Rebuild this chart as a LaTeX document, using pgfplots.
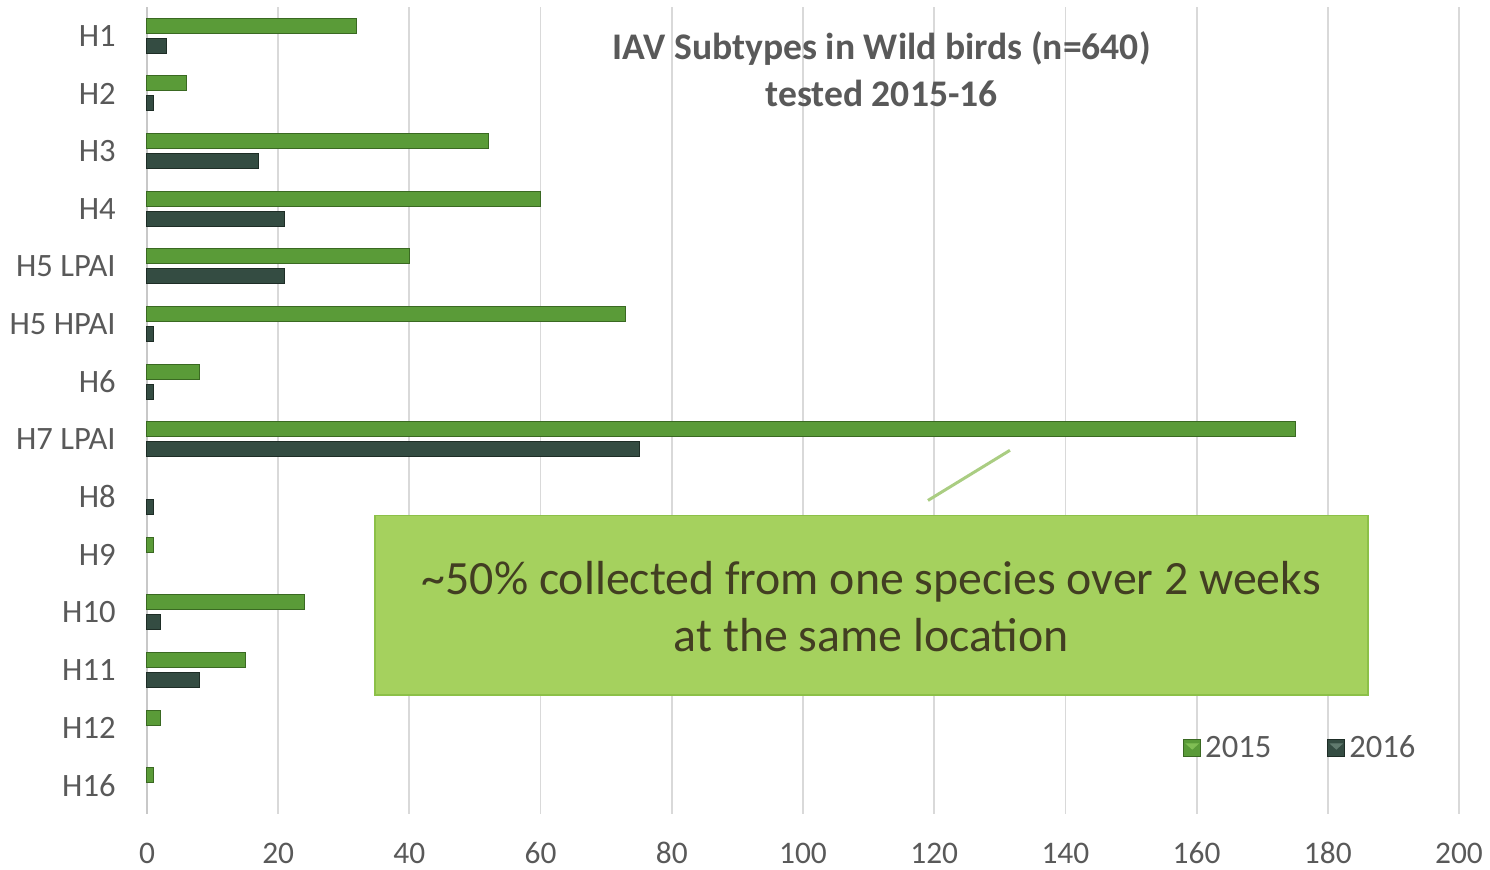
\documentclass[border=0pt]{standalone}
\usepackage{pgfplots}
\pgfplotsset{compat=1.18}
\usepackage{fontspec}
\setmainfont{Carlito}
\definecolor{tickc}{RGB}{89,89,89}
\definecolor{gridc}{RGB}{217,217,217}
\definecolor{axc}{RGB}{200,200,200}
\definecolor{gfill}{RGB}{90,155,56}
\definecolor{glite}{RGB}{128,190,84}
\definecolor{gdraw}{RGB}{58,105,34}
\definecolor{dfill}{RGB}{52,76,66}
\definecolor{dlite}{RGB}{96,122,110}
\definecolor{ddraw}{RGB}{30,45,38}
\definecolor{boxf}{RGB}{165,209,94}
\definecolor{boxd}{RGB}{140,192,72}
\definecolor{linec}{RGB}{170,205,130}
\definecolor{anntext}{RGB}{66,62,34}
\begin{document}
\begin{tikzpicture}[x=1pt,y=1pt]
\useasboundingbox (-73.5,-27.5) rectangle (671.5,407);
\begin{axis}[
  at={(0,0)}, anchor=south west,
  scale only axis, width=656pt, height=403.5pt,
  xmin=0, xmax=200, ymin=-0.5, ymax=13.5, y dir=reverse,
  xtick={0,20,...,200}, ytick={0,...,13},
  yticklabels={H1,H2,H3,H4,H5 LPAI,H5 HPAI,H6,H7 LPAI,H8,H9,H10,H11,H12,H16},
  xbar, bar width=7.5pt,
  xmajorgrids, grid style={draw=gridc, line width=0.9pt},
  axis x line*=bottom, axis y line*=left,
  axis line style={-},
  x axis line style={draw=none},
  y axis line style={draw=axc, line width=1.2pt},
  major tick length=0pt,
  ticklabel style={text=tickc},
  xticklabel style={font=\fontsize{15.7}{18}\selectfont, anchor=center, inner sep=0pt, yshift=-19.5pt},
  yticklabel style={font=\fontsize{16.3}{19}\selectfont, anchor=east, inner sep=0pt, xshift=-15.5pt},
  /pgf/number format/assume math mode=true,
  clip=false,
  legend style={at={(0.7895,0.0818)}, anchor=west, draw=none, fill=none,
    legend columns=2, font=\fontsize{16.3}{19}\selectfont, text=tickc, inner sep=0pt,
    /tikz/every even column/.append style={column sep=26pt}},
  legend cell align=left,
]
\addplot[bar shift=5pt, fill=gfill, draw=gdraw, line width=0.5pt,
  legend image code/.code={\fill[fill=gfill, draw=gdraw] (0pt,-4.25pt) rectangle (8.5pt,4.25pt);
    \fill[glite] (1.5pt,2pt) -- (7pt,2pt) -- (4.25pt,-0.5pt) -- cycle;}]
  coordinates {(32,0) (6,1) (52,2) (60,3) (40,4) (73,5) (8,6) (175,7) (1,9) (24,10) (15,11) (2,12) (1,13)};
\addlegendentry{2015}
\addplot[bar shift=-5pt, fill=dfill, draw=ddraw, line width=0.5pt,
  legend image code/.code={\fill[fill=dfill, draw=ddraw] (0pt,-4.25pt) rectangle (8.5pt,4.25pt);
    \fill[dlite] (1.5pt,2pt) -- (7pt,2pt) -- (4.25pt,-0.5pt) -- cycle;}]
  coordinates {(3,0) (1,1) (17,2) (21,3) (21,4) (1,5) (1,6) (75,7) (1,8) (2,10) (8,11)};
\addlegendentry{2016}
\node[align=center, font=\bfseries\fontsize{18.8}{23.5}\selectfont, text=tickc] at (axis cs:112,0.58)
  {IAV Subtypes in Wild birds (n=640)\\tested 2015-16};
\draw[linec, line width=1.5pt] (axis cs:119.05,8.06) -- (axis cs:131.55,7.19);
\draw[draw=boxd, fill=boxf, line width=0.8pt] (axis cs:34.76,8.32) rectangle (axis cs:186.1,11.44);
\node[align=center, text=anntext, font=\fontsize{23.9}{28.5}\selectfont] at (axis cs:110.4,9.90)
  {\textasciitilde50\% collected from one species over 2 weeks\\at the same location};
\end{axis}
\end{tikzpicture}
\end{document}
